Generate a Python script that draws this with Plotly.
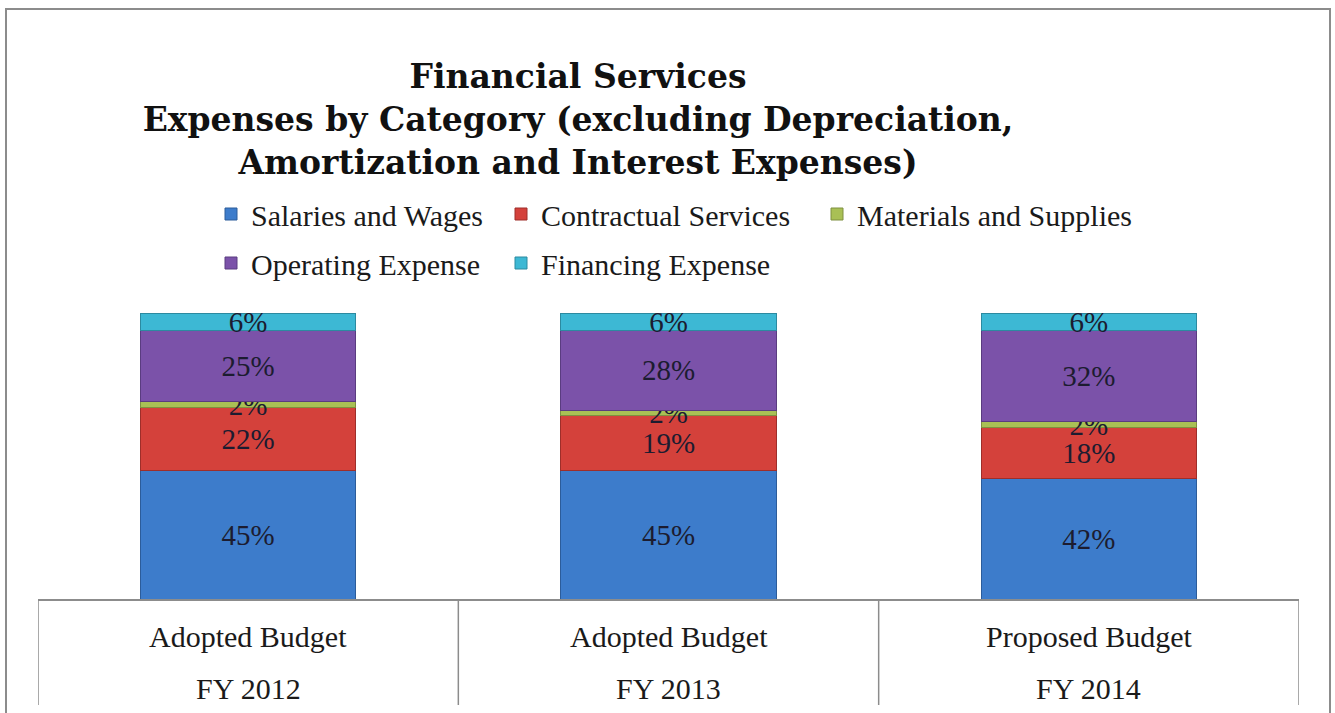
import plotly.graph_objects as go

# ---- data ----
categories = ["FY 2012", "FY 2013", "FY 2014"]
label_top = ["Adopted Budget", "Adopted Budget", "Proposed Budget"]
label_bottom = ["FY 2012", "FY 2013", "FY 2014"]
series_names = ["Salaries and Wages", "Contractual Services", "Materials and Supplies",
                "Operating Expense", "Financing Expense"]
salaries = [45, 45, 42]
contractual = [22, 19, 18]
materials = [2, 2, 2]
operating = [25, 28, 32]
financing = [6, 6, 6]
series_values = [salaries, contractual, materials, operating, financing]

# ---- styles ----
colors = ["#3D7CCB", "#D4413B", "#A9C055", "#7B52A9", "#3DB8D4"]
edge = ["#2C5C9A", "#9E2E2A", "#7E9040", "#5A3C80", "#2C8AA0"]
FONT = "Liberation Serif"
TFONT = "DejaVu Serif"
TXT = "#1c1c30"
W, H = 1335, 713
L, R, T, B = 38, 1299, 313, 599   # plot area in pixels

def px(xp):
    return (xp - L) / (R - L)

def py(yp):
    return (B - yp) / (B - T)

legend_pos = [(233, 214), (523, 214), (839, 214), (233, 263), (523, 263)]

fig = go.Figure()
for i, (name, vals) in enumerate(zip(series_names, series_values)):
    lg = "legend" if i == 0 else f"legend{i+1}"
    fig.add_trace(go.Bar(
        x=categories, y=vals, name=name,
        marker=dict(color=colors[i], line=dict(color=edge[i], width=1)),
        width=0.512,
        text=[f"{v}%" for v in vals], textposition="inside",
        insidetextanchor="middle", textangle=0,
        textfont=dict(family=FONT, size=29, color=TXT),
        legend=lg, hoverinfo="name+y",
    ))

layout_legends = {}
for i, (mx, my) in enumerate(legend_pos):
    key = "legend" if i == 0 else f"legend{i+1}"
    layout_legends[key] = dict(
        x=px(mx - 22), y=py(my), xanchor="left", yanchor="middle",
        xref="paper", yref="paper",
        bgcolor="rgba(0,0,0,0)", borderwidth=0,
        font=dict(family=FONT, size=30, color="#1a1a1a"),
        itemclick=False, itemdoubleclick=False,
    )

shapes = []
# outer frame
shapes.append(dict(type="rect", xref="paper", yref="paper",
                   x0=px(6), x1=px(1330), y0=py(9), y1=py(730),
                   line=dict(color="#8c8c8c", width=2), fillcolor="rgba(0,0,0,0)", layer="below"))
# table vertical dividers
for xv in [-0.5, 0.5, 1.5, 2.5]:
    shapes.append(dict(type="line", xref="x", yref="paper",
                       x0=xv, x1=xv, y0=0, y1=py(705),
                       line=dict(color="#8c8c8c", width=1.5)))

annotations = []
for i, c in enumerate(categories):
    annotations.append(dict(x=c, y=py(636), xref="x", yref="paper", text=label_top[i],
                            showarrow=False, yanchor="middle",
                            font=dict(family=FONT, size=30, color="#1a1a1a")))
    annotations.append(dict(x=c, y=py(688), xref="x", yref="paper", text=label_bottom[i],
                            showarrow=False, yanchor="middle",
                            font=dict(family=FONT, size=30, color="#1a1a1a")))

fig.update_layout(
    width=W, height=H, autosize=False,
    margin=dict(l=L, r=W - R, t=T, b=H - B),
    paper_bgcolor="white", plot_bgcolor="white",
    barmode="stack", showlegend=True,
    title=dict(text="<b>Financial Services<br>Expenses by Category (excluding Depreciation,<br>Amortization and Interest Expenses)</b>",
               x=px(578), xref="paper", xanchor="center",
               y=1 - 88 / H, yref="container", yanchor="top",
               font=dict(family=TFONT, size=33, color="#111111")),
    xaxis=dict(range=[-0.5, 2.5], showticklabels=False, ticks="", showgrid=False,
               showline=True, linecolor="#8c8c8c", linewidth=1.5, zeroline=False,
               fixedrange=True),
    yaxis=dict(range=[0, 100], visible=False, showgrid=False, fixedrange=True),
    uniformtext=dict(minsize=29, mode="show"),
    shapes=shapes, annotations=annotations,
    **layout_legends,
)

fig.write_html("out.html", config={"displayModeBar": False},
               post_script="document.body.style.margin='0px';")
